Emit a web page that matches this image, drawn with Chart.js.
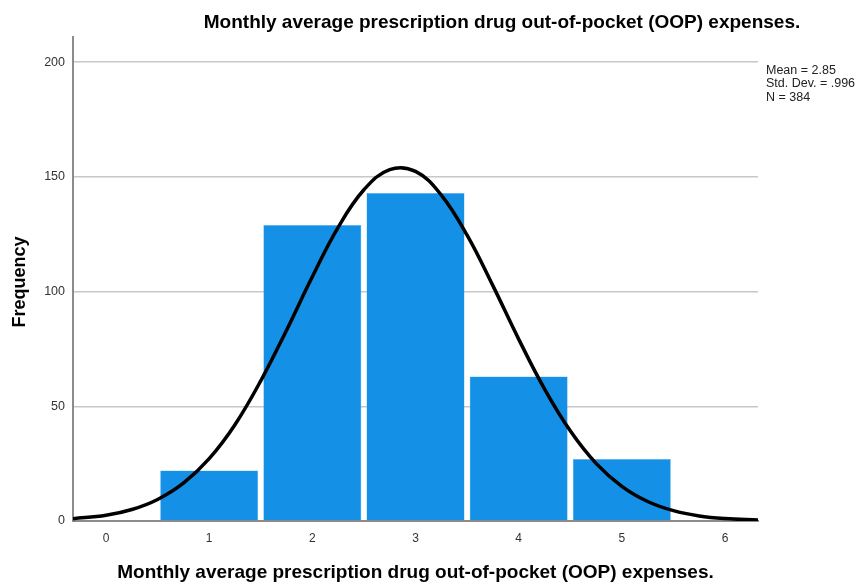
<!DOCTYPE html>
<html>
<head>
<meta charset="utf-8">
<script src="https://cdn.jsdelivr.net/npm/chart.js@4/dist/chart.umd.min.js"></script>
<style>
  body { margin: 0; background: #fff; }
  #wrap { width: 862px; height: 585px; }
</style>
</head>
<body>
<div id="wrap"><canvas id="histChart" width="862" height="585"></canvas></div>
<script>
// histogram bins and counts
const binCenters = [1, 2, 3, 4, 5];
const frequencies = [22, 129, 143, 63, 27];

// normal curve, values
const curveX = [-0.32, 0, 0.25, 0.5, 0.75, 1, 1.25, 1.5, 1.75, 2, 2.25, 2.5, 2.75, 3, 3.25, 3.5, 3.75, 4, 4.25, 4.5, 4.75, 5, 5.25, 5.5, 5.75, 6, 6.32];
const curveY = [1, 2.5, 5, 9.4, 16.5, 27.2, 42, 61.1, 83.2, 106.5, 128, 144.4, 153.2, 152.4, 142.1, 124.6, 102.6, 79.3, 57.6, 39.3, 25.1, 15.1, 8.5, 4.5, 2.2, 1.05, 0.4];

const yTicks = [0, 50, 100, 150, 200];
const xTicks = [0, 1, 2, 3, 4, 5, 6];

const titleText = 'Monthly average prescription drug out-of-pocket (OOP) expenses.';
const statsLines = ['Mean = 2.85', 'Std. Dev. = .996', 'N = 384'];

const FONT = '"Liberation Sans", Arial, sans-serif';

// draws title, axis titles and the stats box
const textPlugin = {
  id: 'textPlugin',
  afterDraw(chart) {
    const ctx = chart.ctx;
    const area = chart.chartArea;
    ctx.save();
    ctx.fillStyle = '#000';
    ctx.font = 'bold 19px ' + FONT;
    ctx.textAlign = 'center';
    ctx.textBaseline = 'alphabetic';
    ctx.fillText(titleText, 502, 28);
    ctx.fillText(titleText, (area.left + area.right) / 2, 578);

    ctx.save();
    ctx.translate(25, 282);
    ctx.rotate(-Math.PI / 2);
    ctx.font = 'bold 18px ' + FONT;
    ctx.fillText('Frequency', 0, 0);
    ctx.restore();

    ctx.font = '12.5px ' + FONT;
    ctx.textAlign = 'left';
    ctx.fillStyle = '#222';
    statsLines.forEach((s, i) => ctx.fillText(s, 766, 74 + i * 13.3));
    ctx.restore();
  }
};

new Chart(document.getElementById('histChart'), {
  data: {
    datasets: [{
      type: 'line',
      data: curveX.map((x, i) => ({ x: x, y: curveY[i] })),
      borderColor: '#000',
      borderWidth: 3.5,
      pointRadius: 0,
      tension: 0.4,
      fill: false,
      order: 0
    }, {
      type: 'bar',
      data: binCenters.map((x, i) => ({ x: x, y: frequencies[i] })),
      backgroundColor: '#1490e6',
      borderColor: '#5fb2ee',
      borderWidth: 0.5,
      barPercentage: 0.95,
      categoryPercentage: 1,
      order: 1
    }]
  },
  options: {
    responsive: false,
    animation: false,
    layout: { padding: { left: 0, top: 37, right: 104, bottom: 0 } },
    plugins: {
      legend: { display: false },
      tooltip: { enabled: false }
    },
    scales: {
      x: {
        type: 'linear',
        offset: false,
        min: -0.32,
        max: 6.32,
        afterFit: s => { s.height = 64; },
        afterBuildTicks: s => { s.ticks = xTicks.map(v => ({ value: v })); },
        grid: { display: false },
        border: { color: '#8c8c8c', width: 2 },
        ticks: {
          font: { family: FONT, size: 12 },
          color: '#333',
          padding: 2
        }
      },
      y: {
        min: 0,
        max: 211,
        afterFit: s => { s.width = 73; },
        afterBuildTicks: s => { s.ticks = yTicks.map(v => ({ value: v })); },
        grid: { color: '#c8c8c8', lineWidth: 1.5, drawTicks: false },
        border: { color: '#8c8c8c', width: 2 },
        ticks: {
          font: { family: FONT, size: 12.5 },
          color: '#333',
          padding: 8
        }
      }
    }
  },
  plugins: [textPlugin]
});
</script>
</body>
</html>
